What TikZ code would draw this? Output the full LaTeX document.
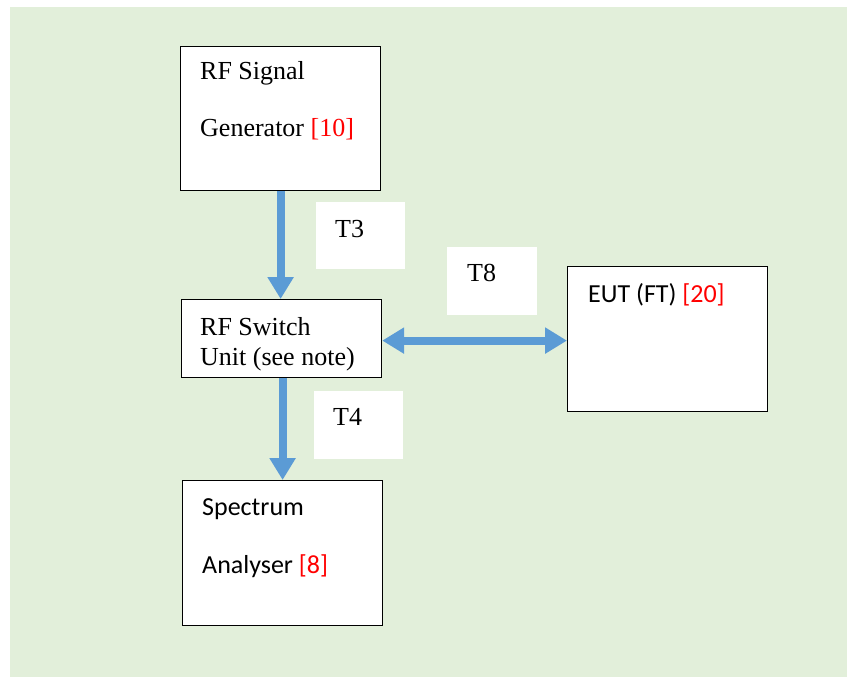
\documentclass[tikz,border=0pt]{standalone}
\usepackage{fontspec}
\setmainfont{Liberation Serif}
\newfontfamily\calfont{Carlito}
\usetikzlibrary{arrows.meta}
\definecolor{bggreen}{HTML}{E2EFDA}
\definecolor{arrblue}{HTML}{5B9BD5}
\definecolor{refred}{HTML}{FF0000}
\tikzset{
  box/.style={draw=black, line width=1.2pt, fill=white, anchor=north west, inner sep=0pt},
  lblbox/.style={fill=white, draw=none, anchor=north west, inner sep=0pt},
  txt/.style={anchor=base west, inner sep=0pt, font=\fontsize{26}{30}\selectfont},
  ctxt/.style={anchor=base west, inner sep=0pt, font=\calfont\fontsize{26}{30}\selectfont},
  arr/.style={draw=arrblue, line width=8pt, -{Triangle[width=25pt,length=22pt]}},
  darr/.style={draw=arrblue, line width=8pt, {Triangle[width=25pt,length=22pt]}-{Triangle[width=25pt,length=22pt]}}
}
\begin{document}
\begin{tikzpicture}[x=1pt,y=-1pt]
\useasboundingbox (0,0) rectangle (847,677);
\fill[bggreen] (10,7) rectangle (847,677);
% boxes
\node[box, minimum width=200pt, minimum height=144pt] (gen) at (180,46) {};
\node[box, minimum width=200pt, minimum height=78pt] (sw) at (181,299) {};
\node[box, minimum width=200pt, minimum height=145pt] (sa) at (182,480) {};
\node[box, minimum width=200pt, minimum height=145pt] (eut) at (567,266) {};
% label boxes
\node[lblbox, minimum width=89pt, minimum height=67pt] (l3) at (316,202) {};
\node[lblbox, minimum width=90pt, minimum height=68pt] (l8) at (447,247) {};
\node[lblbox, minimum width=89pt, minimum height=68pt] (l4) at (314,391) {};
% texts
\node[txt] (gen1) at (200,80) {RF Signal};
\node[txt] (gen2) at (200,136) {Generator \textcolor{refred}{[10]}};
\node[txt] (sw1) at (200,335) {RF Switch};
\node[txt] (sw2) at (200,365) {Unit (see note)};
\node[ctxt] (sa1) at (202,515) {Spectrum};
\node[ctxt] (sa2) at (202,573) {Analyser \textcolor{refred}{[8]}};
\node[ctxt] (eut1) at (588,302) {EUT (FT) \textcolor{refred}{[20]}};
\node[txt] (t3) at (335,237) {T3};
\node[txt] (t8) at (467,281) {T8};
\node[txt] (t4) at (333,425) {T4};
% arrows
\draw[arr] (gen.south) -- (gen.south |- sw.north);
\draw[arr] ([xshift=1pt]sw.south) -- ([xshift=1pt]sw.south |- sa.north);
\draw[darr] ([yshift=-2pt]sw.east) -- ([yshift=-2pt]eut.west |- sw.east);
\end{tikzpicture}
\end{document}
